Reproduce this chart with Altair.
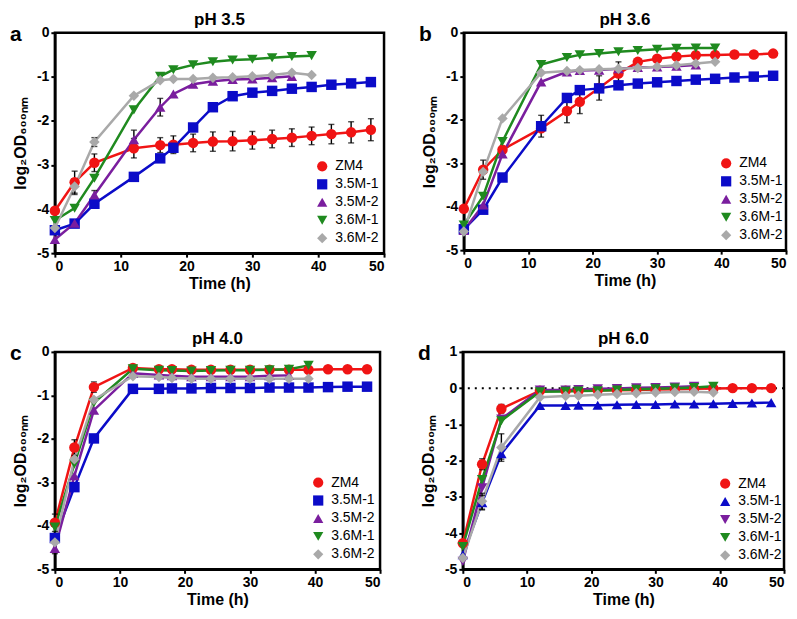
import altair as alt
import pandas as pd

TIME = [0, 3, 6, 12, 16, 18, 21, 24, 27, 30, 33, 36, 39, 42, 45, 48]
SERIES = ["ZM4", "3.5M-1", "3.5M-2", "3.6M-1", "3.6M-2"]
COLORS = ["#F01414", "#0B0BC8", "#7A1E9E", "#1F8A1F", "#A9A9A9"]
SHAPES_ABC = ["circle", "square", "triangle-up", "triangle-down", "diamond"]
SHAPES_D = ["circle", "triangle-up", "triangle-down", "triangle-down", "diamond"]

# panel a: pH 3.5
A_ZM4 = [-4.04, -3.39, -2.95, -2.62, -2.55, -2.54, -2.50, -2.47, -2.46, -2.44, -2.41, -2.38, -2.34, -2.30, -2.26, -2.20]
A_35M1 = [-4.48, -4.33, -3.88, -3.27, -2.85, -2.61, -2.15, -1.69, -1.44, -1.36, -1.32, -1.27, -1.23, -1.18, -1.15, -1.12]
A_35M2 = [-4.69, -4.32, -3.68, -2.43, -1.69, -1.39, -1.17, -1.10, -1.06, -1.05, -1.02, -0.99]
A_36M1 = [-4.26, -3.98, -3.30, -1.75, -0.99, -0.84, -0.73, -0.66, -0.62, -0.60, -0.57, -0.54, -0.52]
A_36M2 = [-4.43, -3.49, -2.48, -1.43, -1.08, -1.05, -1.05, -1.02, -1.01, -0.99, -0.96, -0.91, -0.96]
A_ERR_ZM4 = [0.0, 0.25, 0.2, 0.22, 0.17, 0.2, 0.2, 0.22, 0.22, 0.2, 0.2, 0.2, 0.2, 0.22, 0.24, 0.25]
A_ERR_35M2 = [0.0, 0.0, 0.1, 0.22, 0.2, 0.0, 0.0, 0.0, 0.0, 0.0, 0.0, 0.0]
A_ERR_36M2 = [0.0, 0.18, 0.1, 0.0, 0.0, 0.0, 0.0, 0.0, 0.0, 0.0, 0.0, 0.0, 0.0]

# panel b: pH 3.6
B_ZM4 = [-4.05, -3.15, -2.69, -2.20, -1.80, -1.59, -1.27, -0.94, -0.67, -0.60, -0.55, -0.52, -0.51, -0.50, -0.50, -0.48]
B_35M1 = [-4.52, -4.07, -3.33, -2.15, -1.50, -1.32, -1.28, -1.21, -1.17, -1.14, -1.11, -1.08, -1.06, -1.03, -1.01, -0.99]
B_35M2 = [-4.55, -3.96, -2.79, -1.13, -0.90, -0.87, -0.86, -0.83, -0.80, -0.79, -0.77, -0.74]
B_36M1 = [-4.42, -3.76, -2.50, -0.73, -0.57, -0.51, -0.48, -0.44, -0.41, -0.38, -0.36, -0.35, -0.35]
B_36M2 = [-4.57, -3.20, -1.97, -0.92, -0.88, -0.86, -0.84, -0.83, -0.81, -0.78, -0.75, -0.71, -0.67]
B_ERR_ZM4 = [0.0, 0.22, 0.0, 0.0, 0.27, 0.27, 0.28, 0.27, 0.0, 0.0, 0.0, 0.0, 0.0, 0.0, 0.0, 0.0]
B_ERR_35M1 = [0.0, 0.0, 0.0, 0.25, 0.0, 0.0, 0.0, 0.0, 0.0, 0.0, 0.0, 0.0, 0.0, 0.0, 0.0, 0.0]

# panel c: pH 4.0
C_ZM4 = [-3.93, -2.20, -0.81, -0.37, -0.40, -0.40, -0.41, -0.41, -0.41, -0.41, -0.41, -0.41, -0.41, -0.40, -0.40, -0.40]
C_35M1 = [-4.28, -3.11, -1.99, -0.85, -0.85, -0.84, -0.84, -0.83, -0.83, -0.83, -0.82, -0.82, -0.82, -0.81, -0.80, -0.80]
C_35M2 = [-4.52, -2.85, -1.34, -0.49, -0.53, -0.55, -0.57, -0.57, -0.57, -0.57, -0.55, -0.54]
C_36M1 = [-4.03, -2.58, -1.17, -0.39, -0.42, -0.43, -0.44, -0.43, -0.42, -0.42, -0.41, -0.40, -0.31]
C_36M2 = [-4.38, -2.47, -1.10, -0.56, -0.58, -0.60, -0.62, -0.62, -0.62, -0.62, -0.62, -0.62, -0.62]
C_ERR_ZM4 = [0.2, 0.18, 0.12, 0.0, 0.0, 0.0, 0.0, 0.0, 0.0, 0.0, 0.0, 0.0, 0.0, 0.0, 0.0, 0.0]
C_ERR_35M2 = [0.12, 0.0, 0.0, 0.0, 0.0, 0.0, 0.0, 0.0, 0.0, 0.0, 0.0, 0.0]

# panel d: pH 6.0
D_ZM4 = [-4.28, -2.10, -0.57, -0.07, -0.07, -0.07, -0.06, -0.06, -0.05, -0.04, -0.03, -0.02, -0.01, 0.0, 0.0, 0.0]
D_35M1 = [-4.60, -3.16, -1.81, -0.48, -0.48, -0.47, -0.47, -0.46, -0.45, -0.45, -0.44, -0.44, -0.43, -0.42, -0.41, -0.40]
D_35M2 = [-4.78, -2.75, -0.85, -0.05, -0.05, -0.04, -0.02, -0.01, 0.01, 0.02, 0.03, 0.05]
D_36M1 = [-4.37, -2.52, -0.90, -0.10, -0.09, -0.08, -0.07, -0.05, -0.03, -0.02, 0.0, 0.02, 0.05]
D_36M2 = [-4.69, -3.12, -1.64, -0.25, -0.22, -0.21, -0.18, -0.16, -0.14, -0.12, -0.11, -0.10, -0.12]
D_ERR_ZM4 = [0.0, 0.15, 0.12, 0.0, 0.0, 0.0, 0.0, 0.0, 0.0, 0.0, 0.0, 0.0, 0.0, 0.0, 0.0, 0.0]
D_ERR_35M1 = [0.0, 0.2, 0.15, 0.0, 0.0, 0.0, 0.0, 0.0, 0.0, 0.0, 0.0, 0.0, 0.0, 0.0, 0.0, 0.0]
D_ERR_36M2 = [0.0, 0.22, 0.38, 0.0, 0.0, 0.0, 0.0, 0.0, 0.0, 0.0, 0.0, 0.0, 0.0]

FONT = "Liberation Sans"
Y_TITLE = "log₂OD₆₀₀ₙₘ"


def build_df(values, errors):
    rows = []
    for s in SERIES:
        vals = values[s]
        errs = errors.get(s, [0.0] * len(vals))
        for t, v, e in zip(TIME, vals, errs):
            rows.append({"time": t, "value": v, "series": s, "lo": v - e, "hi": v + e, "err": e})
    return pd.DataFrame(rows)


def panel(letter, title, values, errors, shapes, ydom, width, height, lx, ly, zero_line=False):
    df = build_df(values, errors)
    xenc = alt.X("time:Q", scale=alt.Scale(domain=[0, 50], nice=False),
                 axis=alt.Axis(values=[0, 10, 20, 30, 40, 50], title="Time (h)"))
    yaxis = alt.Axis(values=list(range(ydom[0], ydom[1] + 1)), title=Y_TITLE,
                     labelExpr="datum.value + ''")
    yscale = alt.Scale(domain=ydom, nice=False)
    cscale = alt.Scale(domain=SERIES, range=COLORS)
    sscale = alt.Scale(domain=SERIES, range=shapes)
    leg = alt.Legend(title=None, orient="none", legendX=lx, legendY=ly)

    base = alt.Chart(df)
    layers = []
    if zero_line:
        zdf = pd.DataFrame({"y": [0]})
        layers.append(alt.Chart(zdf).mark_rule(color="black", strokeWidth=2, strokeDash=[2, 5]).encode(
            y=alt.Y("y:Q", scale=yscale, axis=yaxis)))
    lines = base.mark_line(strokeWidth=2.5).encode(
        x=xenc, y=alt.Y("value:Q", scale=yscale, axis=yaxis),
        stroke=alt.Stroke("series:N", scale=cscale, legend=None))
    bars = base.transform_filter("datum.err > 0").mark_errorbar(
        ticks=True, size=6, thickness=1.4, color="black").encode(
        x=xenc, y=alt.Y("lo:Q", scale=yscale, axis=yaxis), y2="hi:Q")
    pts = base.mark_point(filled=True, size=110, opacity=1).encode(
        x=xenc, y=alt.Y("value:Q", scale=yscale, axis=yaxis),
        color=alt.Color("series:N", scale=cscale, legend=leg),
        shape=alt.Shape("series:N", scale=sscale, legend=leg))
    ldf = pd.DataFrame({"letter": [letter]})
    lab = alt.Chart(ldf).mark_text(fontSize=21, fontWeight="bold", font=FONT, align="left",
                                   baseline="middle", color="black").encode(
        text="letter:N", x=alt.value(-45), y=alt.value(2))
    layers += [lines, bars, pts, lab]
    return alt.layer(*layers).properties(
        width=width, height=height,
        title=alt.Title(title))


pa = panel("a", "pH 3.5", {"ZM4": A_ZM4, "3.5M-1": A_35M1, "3.5M-2": A_35M2, "3.6M-1": A_36M1, "3.6M-2": A_36M2},
           {"ZM4": A_ERR_ZM4, "3.5M-2": A_ERR_35M2, "3.6M-2": A_ERR_36M2},
           SHAPES_ABC, [-5, 0], 330, 221, 261, 127)
pb = panel("b", "pH 3.6", {"ZM4": B_ZM4, "3.5M-1": B_35M1, "3.5M-2": B_35M2, "3.6M-1": B_36M1, "3.6M-2": B_36M2},
           {"ZM4": B_ERR_ZM4, "3.5M-1": B_ERR_35M1},
           SHAPES_ABC, [-5, 0], 323, 218, 256, 124)
pc = panel("c", "pH 4.0", {"ZM4": C_ZM4, "3.5M-1": C_35M1, "3.5M-2": C_35M2, "3.6M-1": C_36M1, "3.6M-2": C_36M2},
           {"ZM4": C_ERR_ZM4, "3.5M-2": C_ERR_35M2},
           SHAPES_ABC, [-5, 0], 326, 218, 257, 124)
pd_ = panel("d", "pH 6.0", {"ZM4": D_ZM4, "3.5M-1": D_35M1, "3.5M-2": D_35M2, "3.6M-1": D_36M1, "3.6M-2": D_36M2},
            {"ZM4": D_ERR_ZM4, "3.5M-1": D_ERR_35M1, "3.6M-2": D_ERR_36M2},
            SHAPES_D, [-5, 1], 322, 218, 256, 125, zero_line=True)

row1 = alt.hconcat(pa, pb, spacing=30).resolve_scale(color="independent", shape="independent")
row2 = alt.hconcat(pc, pd_, spacing=33).resolve_scale(color="independent", shape="independent")
chart = alt.vconcat(row1, row2, spacing=35).resolve_scale(
    color="independent", shape="independent").properties(padding=0).configure_view(
    stroke="black", strokeWidth=2.5).configure_axis(
    domainColor="black", domainWidth=2.5, tickColor="black", tickWidth=2, tickSize=4,
    labelFont=FONT, labelFontSize=14, labelFontWeight="bold", labelColor="black", labelPadding=2,
    titleFont=FONT, titleFontSize=16, titleFontWeight="bold", titleColor="black", grid=False
).configure_axisY(titlePadding=8).configure_axisX(titlePadding=2).configure_title(
    font=FONT, fontSize=17, fontWeight="bold", color="black", offset=-5, anchor="middle"
).configure_legend(labelFont=FONT, labelFontSize=14, labelColor="black", symbolSize=105,
                   rowPadding=4, symbolStrokeWidth=0, labelOffset=6)

chart.save("out.html", embed_options={"renderer": "svg", "actions": False})
